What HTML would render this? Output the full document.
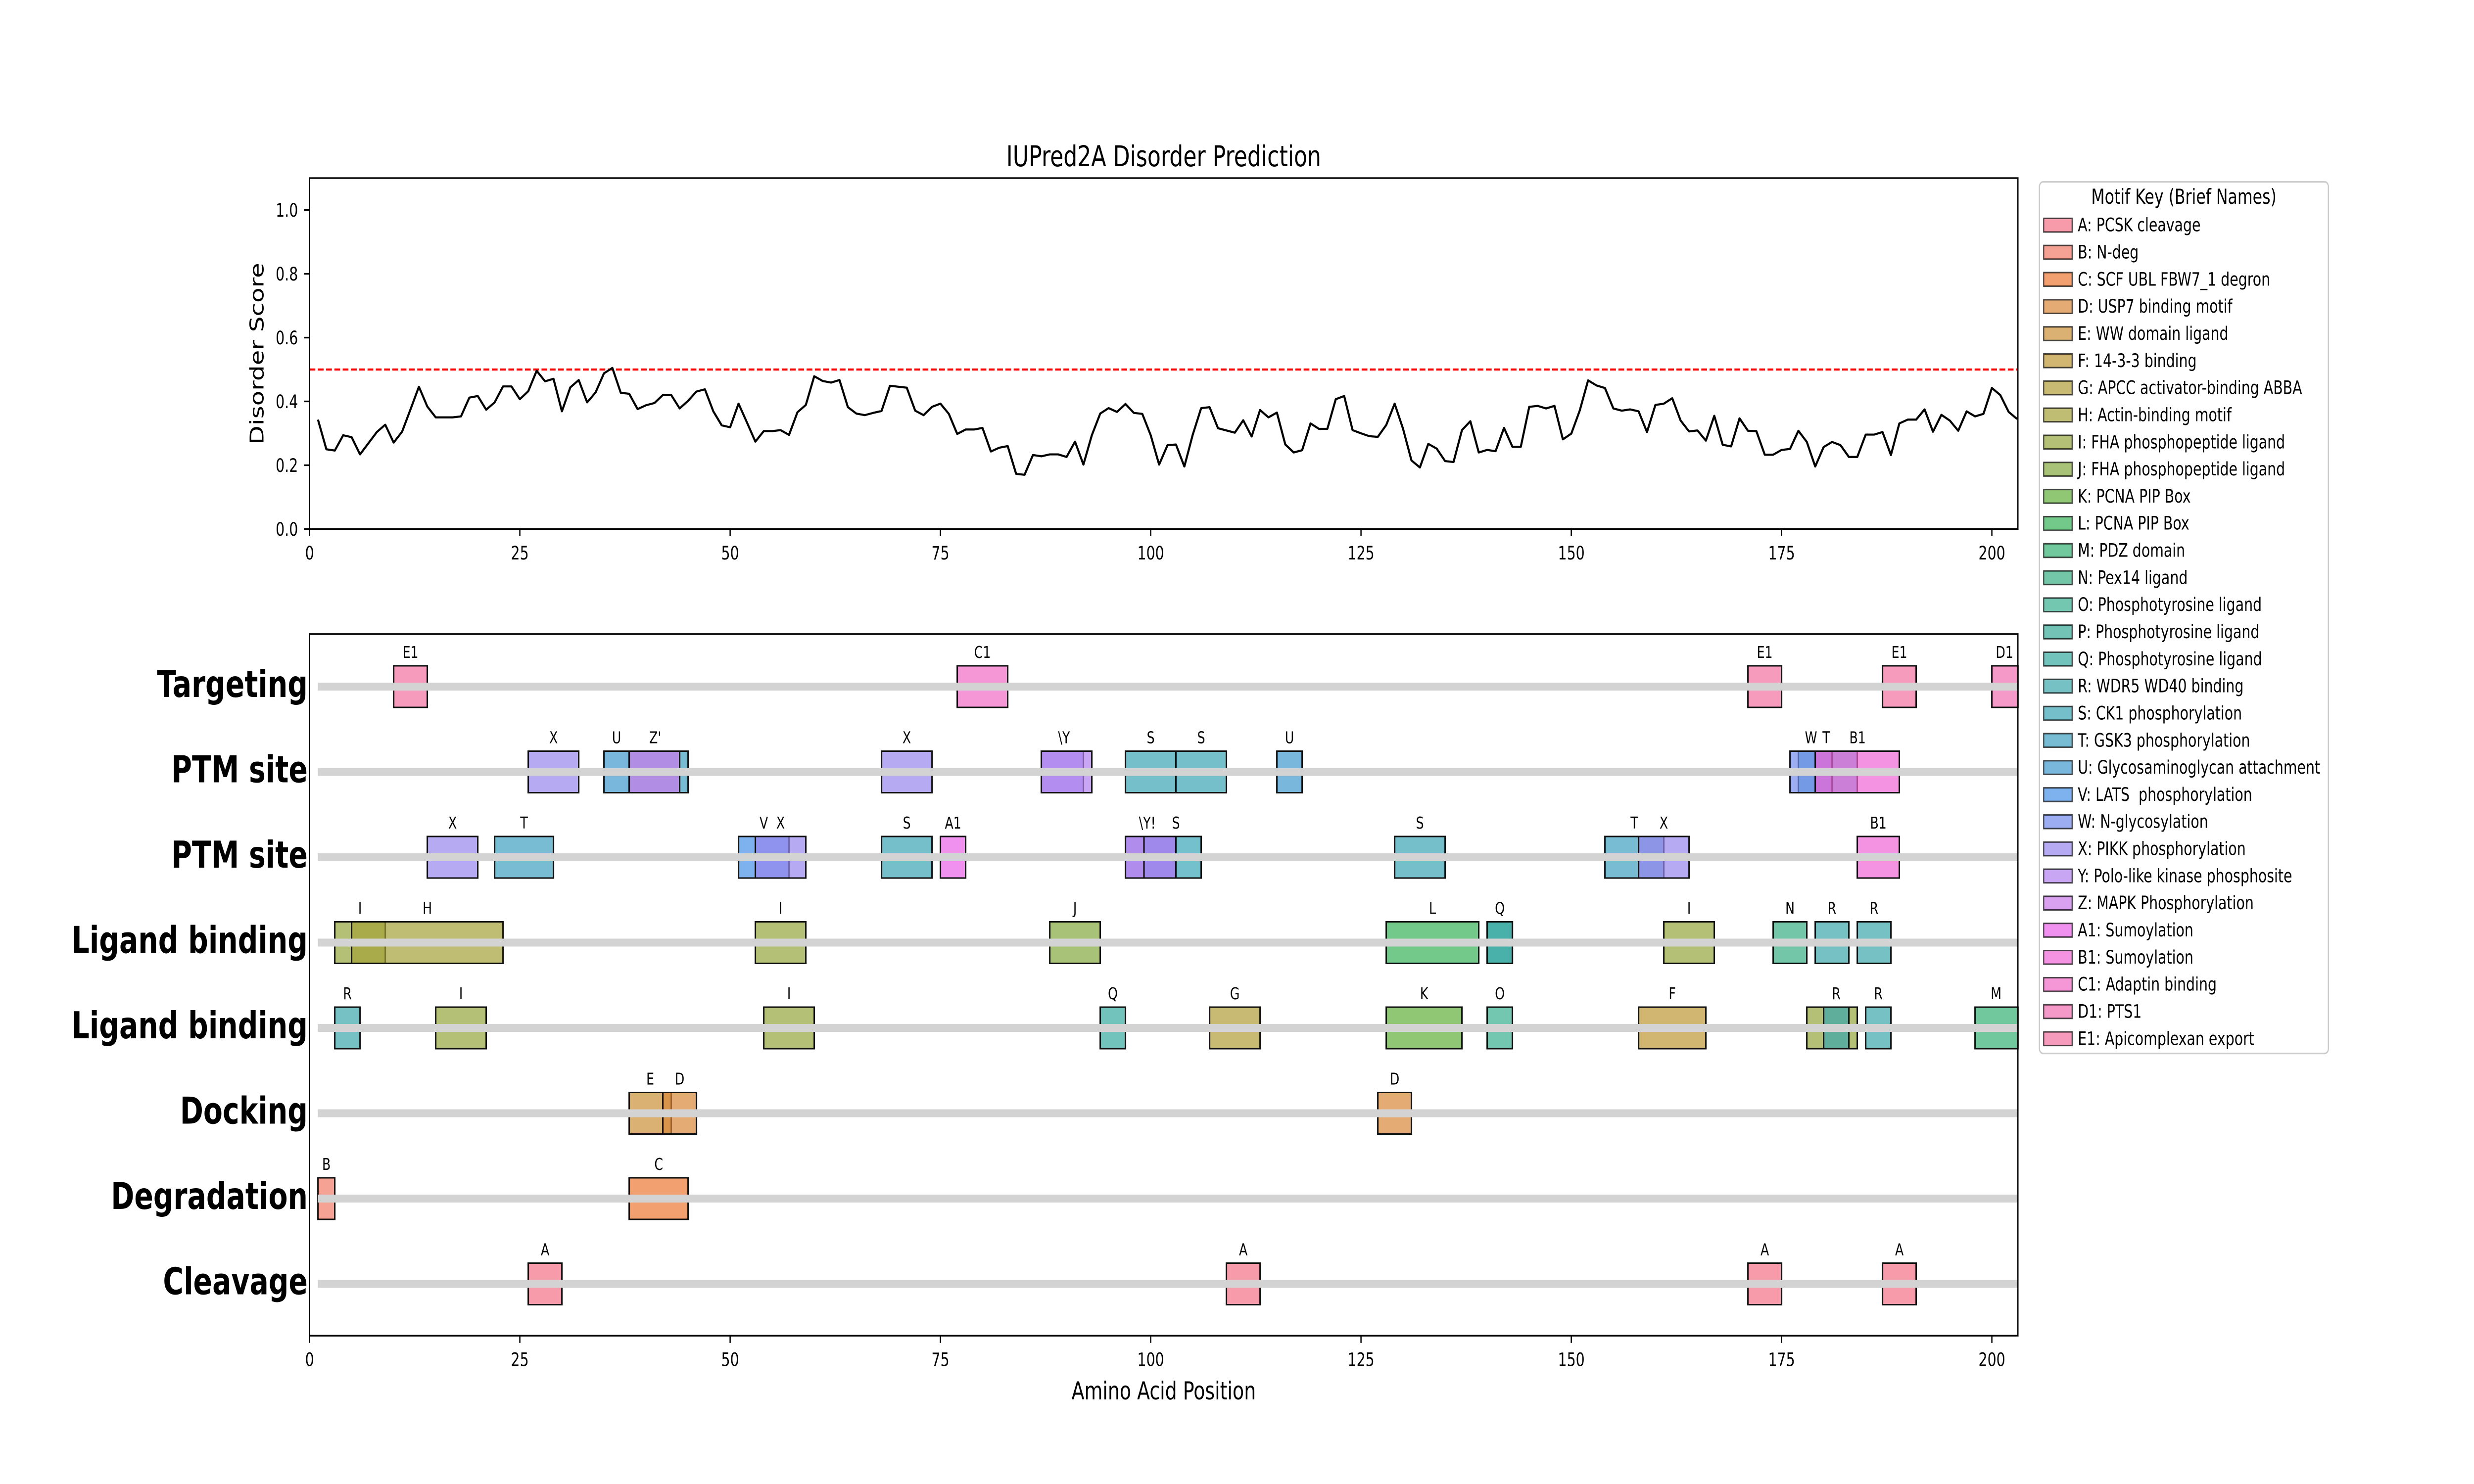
<!DOCTYPE html>
<html>
<head>
<meta charset="utf-8">
<meta name="viewport" content="width=device-width, initial-scale=1">
<style>
  html,body{margin:0;padding:0;background:#fff;overflow:hidden;width:100%;height:100%;}
  svg{display:block;width:100vw;height:100vh;}
  text{font-family:"DejaVu Sans","Liberation Sans",sans-serif;}
</style>
</head>
<body>
<svg xmlns="http://www.w3.org/2000/svg" viewBox="0 0 6600 3000" preserveAspectRatio="none">
<rect x="0" y="0" width="6600" height="3000" fill="#ffffff"/>

<!-- ================= TOP PLOT ================= -->
<text x="3104.5" y="336" font-size="58.3" text-anchor="middle" fill="#000">IUPred2A Disorder Prediction</text>

<line x1="825.8" y1="747" x2="5383.3" y2="747" stroke="#ff0000" stroke-width="4.2" stroke-dasharray="15.4 6.7"/>

<g transform="translate(825.8 1069.5) scale(22.44 -645)">
<polyline fill="none" stroke="#000" stroke-width="4.2" vector-effect="non-scaling-stroke" stroke-linejoin="round" stroke-linecap="butt"
points="1,0.343 2,0.250 3,0.246 4,0.294 5,0.288 6,0.234 7,0.269 8,0.304 9,0.327 10,0.271 11,0.305 12,0.375 13,0.446 14,0.384 15,0.350 16,0.350 17,0.350 18,0.353 19,0.412 20,0.417 21,0.374 22,0.397 23,0.447 24,0.447 25,0.407 26,0.432 27,0.496 28,0.463 29,0.471 30,0.369 31,0.444 32,0.467 33,0.397 34,0.428 35,0.488 36,0.505 37,0.427 38,0.424 39,0.376 40,0.388 41,0.395 42,0.420 43,0.420 44,0.378 45,0.402 46,0.431 47,0.438 48,0.369 49,0.325 50,0.319 51,0.393 52,0.334 53,0.274 54,0.307 55,0.307 56,0.310 57,0.295 58,0.366 59,0.389 60,0.479 61,0.464 62,0.459 63,0.467 64,0.382 65,0.362 66,0.357 67,0.364 68,0.370 69,0.449 70,0.446 71,0.443 72,0.371 73,0.357 74,0.383 75,0.393 76,0.361 77,0.298 78,0.312 79,0.312 80,0.317 81,0.243 82,0.255 83,0.260 84,0.173 85,0.170 86,0.232 87,0.228 88,0.234 89,0.234 90,0.226 91,0.274 92,0.202 93,0.294 94,0.362 95,0.379 96,0.367 97,0.392 98,0.364 99,0.361 100,0.294 101,0.202 102,0.263 103,0.265 104,0.196 105,0.296 106,0.379 107,0.382 108,0.316 109,0.309 110,0.302 111,0.341 112,0.290 113,0.373 114,0.350 115,0.365 116,0.265 117,0.240 118,0.247 119,0.331 120,0.314 121,0.314 122,0.407 123,0.417 124,0.310 125,0.300 126,0.291 127,0.289 128,0.326 129,0.393 130,0.314 131,0.215 132,0.193 133,0.267 134,0.252 135,0.213 136,0.210 137,0.310 138,0.338 139,0.240 140,0.248 141,0.244 142,0.317 143,0.258 144,0.258 145,0.383 146,0.386 147,0.378 148,0.386 149,0.281 150,0.299 151,0.371 152,0.466 153,0.450 154,0.442 155,0.378 156,0.371 157,0.375 158,0.369 159,0.304 160,0.389 161,0.393 162,0.410 163,0.340 164,0.306 165,0.309 166,0.277 167,0.355 168,0.264 169,0.259 170,0.347 171,0.308 172,0.307 173,0.233 174,0.233 175,0.248 176,0.251 177,0.308 178,0.273 179,0.196 180,0.257 181,0.273 182,0.263 183,0.226 184,0.226 185,0.296 186,0.296 187,0.304 188,0.232 189,0.331 190,0.343 191,0.343 192,0.375 193,0.305 194,0.358 195,0.340 196,0.308 197,0.369 198,0.353 199,0.361 200,0.442 201,0.420 202,0.367 203,0.345"/>
</g>

<rect x="825.8" y="360" width="4557.5" height="709.5" fill="none" stroke="#000" stroke-width="3.3"/>

<g stroke="#000" stroke-width="3.3">
<line x1="811" y1="1069.5" x2="825.8" y2="1069.5"/>
<line x1="811" y1="940.5" x2="825.8" y2="940.5"/>
<line x1="811" y1="811.5" x2="825.8" y2="811.5"/>
<line x1="811" y1="682.5" x2="825.8" y2="682.5"/>
<line x1="811" y1="553.5" x2="825.8" y2="553.5"/>
<line x1="811" y1="424.5" x2="825.8" y2="424.5"/>
</g>
<g font-size="37.5" text-anchor="end" fill="#000">
<text x="795" y="1083">0.0</text>
<text x="795" y="954">0.2</text>
<text x="795" y="825">0.4</text>
<text x="795" y="696">0.6</text>
<text x="795" y="567">0.8</text>
<text x="795" y="438">1.0</text>
</g>
<text transform="translate(703 715) rotate(-90)" font-size="50" text-anchor="middle" fill="#000">Disorder Score</text>

<g stroke="#000" stroke-width="3.3">
<line x1="825.8" y1="1069.5" x2="825.8" y2="1084"/>
<line x1="1386.8" y1="1069.5" x2="1386.8" y2="1084"/>
<line x1="1947.8" y1="1069.5" x2="1947.8" y2="1084"/>
<line x1="2508.8" y1="1069.5" x2="2508.8" y2="1084"/>
<line x1="3069.8" y1="1069.5" x2="3069.8" y2="1084"/>
<line x1="3630.8" y1="1069.5" x2="3630.8" y2="1084"/>
<line x1="4191.8" y1="1069.5" x2="4191.8" y2="1084"/>
<line x1="4752.8" y1="1069.5" x2="4752.8" y2="1084"/>
<line x1="5313.8" y1="1069.5" x2="5313.8" y2="1084"/>
</g>
<g font-size="37.5" text-anchor="middle" fill="#000">
<text x="825.8" y="1131">0</text>
<text x="1386.8" y="1131">25</text>
<text x="1947.8" y="1131">50</text>
<text x="2508.8" y="1131">75</text>
<text x="3069.8" y="1131">100</text>
<text x="3630.8" y="1131">125</text>
<text x="4191.8" y="1131">150</text>
<text x="4752.8" y="1131">175</text>
<text x="5313.8" y="1131">200</text>
</g>

<!-- ================= BOTTOM PLOT ================= -->
<g transform="translate(825.8 0) scale(22.44 1)" fill-opacity="0.7" stroke="#111" stroke-width="3">
  <rect x="10" y="1346" width="4" height="84" fill="#f2709f" vector-effect="non-scaling-stroke"/>
  <rect x="77" y="1346" width="6" height="84" fill="#f16ac4" vector-effect="non-scaling-stroke"/>
  <rect x="171" y="1346" width="4" height="84" fill="#f2709f" vector-effect="non-scaling-stroke"/>
  <rect x="187" y="1346" width="4" height="84" fill="#f2709f" vector-effect="non-scaling-stroke"/>
  <rect x="200" y="1346" width="3.1" height="84" fill="#f16db2" vector-effect="non-scaling-stroke"/>

  <rect x="26" y="1518.5" width="6" height="84" fill="#9786ee" vector-effect="non-scaling-stroke"/>
  <rect x="35" y="1518.5" width="3" height="84" fill="#4099ce" vector-effect="non-scaling-stroke"/>
  <rect x="38" y="1518.5" width="7" height="84" fill="#3d9fc0" vector-effect="non-scaling-stroke"/>
  <rect x="38" y="1518.5" width="6" height="84" fill="#cc79eb" vector-effect="non-scaling-stroke"/>
  <rect x="68" y="1518.5" width="6" height="84" fill="#9786ee" vector-effect="non-scaling-stroke"/>
  <rect x="87" y="1518.5" width="5" height="84" fill="#9786ee" vector-effect="non-scaling-stroke"/>
  <rect x="87" y="1518.5" width="6" height="84" fill="#b280ee" vector-effect="non-scaling-stroke"/>
  <rect x="97" y="1518.5" width="6" height="84" fill="#3ba4b5" vector-effect="non-scaling-stroke"/>
  <rect x="103" y="1518.5" width="6" height="84" fill="#3ba4b5" vector-effect="non-scaling-stroke"/>
  <rect x="115" y="1518.5" width="3" height="84" fill="#4099ce" vector-effect="non-scaling-stroke"/>
  <rect x="177" y="1518.5" width="7" height="84" fill="#3d9fc0" vector-effect="non-scaling-stroke"/>
  <rect x="176" y="1518.5" width="5" height="84" fill="#738aec" vector-effect="non-scaling-stroke"/>
  <rect x="179" y="1518.5" width="10" height="84" fill="#f165d7" vector-effect="non-scaling-stroke"/>

  <rect x="14" y="1691" width="6" height="84" fill="#9786ee" vector-effect="non-scaling-stroke"/>
  <rect x="22" y="1691" width="7" height="84" fill="#3d9fc0" vector-effect="non-scaling-stroke"/>
  <rect x="51" y="1691" width="6" height="84" fill="#4792e7" vector-effect="non-scaling-stroke"/>
  <rect x="53" y="1691" width="6" height="84" fill="#9786ee" vector-effect="non-scaling-stroke"/>
  <rect x="68" y="1691" width="6" height="84" fill="#3ba4b5" vector-effect="non-scaling-stroke"/>
  <rect x="75" y="1691" width="3" height="84" fill="#ea63ea" vector-effect="non-scaling-stroke"/>
  <rect x="97" y="1691" width="2.2" height="84" fill="#b08cec" fill-opacity="1" vector-effect="non-scaling-stroke"/>
  <rect x="99.2" y="1691" width="3.8" height="84" fill="#9f8aec" fill-opacity="1" vector-effect="non-scaling-stroke"/>
  <rect x="103" y="1691" width="3" height="84" fill="#74c0cc" fill-opacity="1" vector-effect="non-scaling-stroke"/>
  <rect x="129" y="1691" width="6" height="84" fill="#3ba4b5" vector-effect="non-scaling-stroke"/>
  <rect x="154" y="1691" width="7" height="84" fill="#3d9fc0" vector-effect="non-scaling-stroke"/>
  <rect x="158" y="1691" width="6" height="84" fill="#9786ee" vector-effect="non-scaling-stroke"/>
  <rect x="184" y="1691" width="5" height="84" fill="#f165d7" vector-effect="non-scaling-stroke"/>

  <rect x="3" y="1863.5" width="6" height="84" fill="#94a53b" vector-effect="non-scaling-stroke"/>
  <rect x="5" y="1863.5" width="18" height="84" fill="#a4a138" vector-effect="non-scaling-stroke"/>
  <rect x="53" y="1863.5" width="6" height="84" fill="#94a53b" vector-effect="non-scaling-stroke"/>
  <rect x="88" y="1863.5" width="6" height="84" fill="#83a93d" vector-effect="non-scaling-stroke"/>
  <rect x="128" y="1863.5" width="11" height="84" fill="#38b258" vector-effect="non-scaling-stroke"/>
  <rect x="140" y="1863.5" width="3" height="84" fill="#38a9a1" vector-effect="non-scaling-stroke"/>
  <rect x="140" y="1863.5" width="3" height="84" fill="#38a9a1" vector-effect="non-scaling-stroke"/>
  <rect x="161" y="1863.5" width="6" height="84" fill="#94a53b" vector-effect="non-scaling-stroke"/>
  <rect x="174" y="1863.5" width="4" height="84" fill="#37af83" vector-effect="non-scaling-stroke"/>
  <rect x="179" y="1863.5" width="4" height="84" fill="#3aa6ab" vector-effect="non-scaling-stroke"/>
  <rect x="184" y="1863.5" width="4" height="84" fill="#3aa6ab" vector-effect="non-scaling-stroke"/>

  <rect x="3" y="2036" width="3" height="84" fill="#3aa6ab" vector-effect="non-scaling-stroke"/>
  <rect x="15" y="2036" width="6" height="84" fill="#94a53b" vector-effect="non-scaling-stroke"/>
  <rect x="54" y="2036" width="6" height="84" fill="#94a53b" vector-effect="non-scaling-stroke"/>
  <rect x="94" y="2036" width="3" height="84" fill="#38a9a1" vector-effect="non-scaling-stroke"/>
  <rect x="107" y="2036" width="6" height="84" fill="#b09c38" vector-effect="non-scaling-stroke"/>
  <rect x="128" y="2036" width="9" height="84" fill="#5faf3a" vector-effect="non-scaling-stroke"/>
  <rect x="140" y="2036" width="3" height="84" fill="#37ae8e" vector-effect="non-scaling-stroke"/>
  <rect x="158" y="2036" width="8" height="84" fill="#bd9736" vector-effect="non-scaling-stroke"/>
  <rect x="178" y="2036" width="6" height="84" fill="#94a53b" vector-effect="non-scaling-stroke"/>
  <rect x="180" y="2036" width="3" height="84" fill="#3aa6ab" vector-effect="non-scaling-stroke"/>
  <rect x="185" y="2036" width="3" height="84" fill="#3aa6ab" vector-effect="non-scaling-stroke"/>
  <rect x="198" y="2036" width="5.1" height="84" fill="#36b074" vector-effect="non-scaling-stroke"/>

  <rect x="38" y="2208.5" width="5" height="84" fill="#ca9036" vector-effect="non-scaling-stroke"/>
  <rect x="42" y="2208.5" width="4" height="84" fill="#d8873b" vector-effect="non-scaling-stroke"/>
  <rect x="127" y="2208.5" width="4" height="84" fill="#d8873b" vector-effect="non-scaling-stroke"/>

  <rect x="1" y="2381" width="2" height="84" fill="#f17966" vector-effect="non-scaling-stroke"/>
  <rect x="38" y="2381" width="7" height="84" fill="#ec7733" vector-effect="non-scaling-stroke"/>

  <rect x="26" y="2553.5" width="4" height="84" fill="#f47087" vector-effect="non-scaling-stroke"/>
  <rect x="109" y="2553.5" width="4" height="84" fill="#f47087" vector-effect="non-scaling-stroke"/>
  <rect x="171" y="2553.5" width="4" height="84" fill="#f47087" vector-effect="non-scaling-stroke"/>
  <rect x="187" y="2553.5" width="4" height="84" fill="#f47087" vector-effect="non-scaling-stroke"/>
</g>

<g fill="#d3d3d3">
<rect x="848" y="1380" width="4535.3" height="16"/>
<rect x="848" y="1552.5" width="4535.3" height="16"/>
<rect x="848" y="1725" width="4535.3" height="16"/>
<rect x="848" y="1897.5" width="4535.3" height="16"/>
<rect x="848" y="2070" width="4535.3" height="16"/>
<rect x="848" y="2242.5" width="4535.3" height="16"/>
<rect x="848" y="2415" width="4535.3" height="16"/>
<rect x="848" y="2587.5" width="4535.3" height="16"/>
</g>

<g font-size="33.3" text-anchor="middle" fill="#000">
  <text x="1095.1" y="1330">E1</text>
  <text x="2621.0" y="1330">C1</text>
  <text x="4707.9" y="1330">E1</text>
  <text x="5067.0" y="1330">E1</text>
  <text x="5347.5" y="1330">D1</text>

  <text x="1476.6" y="1502.5">X</text>
  <text x="1644.9" y="1502.5">U</text>
  <text x="1748" y="1502.5">Z'</text>
  <text x="2419.0" y="1502.5">X</text>
  <text x="2838.7" y="1502.5">\Y</text>
  <text x="3069.8" y="1502.5">S</text>
  <text x="3204.4" y="1502.5">S</text>
  <text x="3440.1" y="1502.5">U</text>
  <text x="4831.3" y="1502.5">W</text>
  <text x="4872" y="1502.5">T</text>
  <text x="4955.5" y="1502.5">B1</text>

  <text x="1207.3" y="1675">X</text>
  <text x="1398.0" y="1675">T</text>
  <text x="2037.6" y="1675">V</text>
  <text x="2082.4" y="1675">X</text>
  <text x="2419.0" y="1675">S</text>
  <text x="2542.5" y="1675">A1</text>
  <text x="3060.8" y="1675">\Y!</text>
  <text x="3137.1" y="1675">S</text>
  <text x="3787.9" y="1675">S</text>
  <text x="4360.1" y="1675">T</text>
  <text x="4438.6" y="1675">X</text>
  <text x="5010.9" y="1675">B1</text>

  <text x="960.4" y="1847.5">I</text>
  <text x="1140.0" y="1847.5">H</text>
  <text x="2082.4" y="1847.5">I</text>
  <text x="2867.8" y="1847.5">J</text>
  <text x="3821.5" y="1847.5">L</text>
  <text x="4001.1" y="1847.5">Q</text>
  <text x="4506.0" y="1847.5">I</text>
  <text x="4775.2" y="1847.5">N</text>
  <text x="4887.4" y="1847.5">R</text>
  <text x="4999.6" y="1847.5">R</text>

  <text x="926.8" y="2020">R</text>
  <text x="1229.7" y="2020">I</text>
  <text x="2104.9" y="2020">I</text>
  <text x="2968.8" y="2020">Q</text>
  <text x="3294.2" y="2020">G</text>
  <text x="3799.1" y="2020">K</text>
  <text x="4001.1" y="2020">O</text>
  <text x="4461.1" y="2020">F</text>
  <text x="4898.7" y="2020">R</text>
  <text x="5010.9" y="2020">R</text>
  <text x="5325.0" y="2020">M</text>

  <text x="1734.6" y="2192.5">E</text>
  <text x="1813.2" y="2192.5">D</text>
  <text x="3720.6" y="2192.5">D</text>

  <text x="870.7" y="2365">B</text>
  <text x="1757.1" y="2365">C</text>

  <text x="1454.1" y="2537.5">A</text>
  <text x="3316.6" y="2537.5">A</text>
  <text x="4707.9" y="2537.5">A</text>
  <text x="5067.0" y="2537.5">A</text>
</g>

<rect x="825.8" y="1281.8" width="4557.5" height="1418.4" fill="none" stroke="#000" stroke-width="3.3"/>

<g font-size="75" font-weight="bold" text-anchor="end" fill="#000">
<text x="821" y="1409">Targeting</text>
<text x="821" y="1581.5">PTM site</text>
<text x="821" y="1754">PTM site</text>
<text x="821" y="1926.5">Ligand binding</text>
<text x="821" y="2099">Ligand binding</text>
<text x="821" y="2271.5">Docking</text>
<text x="821" y="2444">Degradation</text>
<text x="821" y="2616.5">Cleavage</text>
</g>

<g stroke="#000" stroke-width="3.3">
<line x1="825.8" y1="2700.2" x2="825.8" y2="2714.8"/>
<line x1="1386.8" y1="2700.2" x2="1386.8" y2="2714.8"/>
<line x1="1947.8" y1="2700.2" x2="1947.8" y2="2714.8"/>
<line x1="2508.8" y1="2700.2" x2="2508.8" y2="2714.8"/>
<line x1="3069.8" y1="2700.2" x2="3069.8" y2="2714.8"/>
<line x1="3630.8" y1="2700.2" x2="3630.8" y2="2714.8"/>
<line x1="4191.8" y1="2700.2" x2="4191.8" y2="2714.8"/>
<line x1="4752.8" y1="2700.2" x2="4752.8" y2="2714.8"/>
<line x1="5313.8" y1="2700.2" x2="5313.8" y2="2714.8"/>
</g>
<g font-size="37.5" text-anchor="middle" fill="#000">
<text x="825.8" y="2761.5">0</text>
<text x="1386.8" y="2761.5">25</text>
<text x="1947.8" y="2761.5">50</text>
<text x="2508.8" y="2761.5">75</text>
<text x="3069.8" y="2761.5">100</text>
<text x="3630.8" y="2761.5">125</text>
<text x="4191.8" y="2761.5">150</text>
<text x="4752.8" y="2761.5">175</text>
<text x="5313.8" y="2761.5">200</text>
</g>
<text x="3104.5" y="2829" font-size="50" text-anchor="middle" fill="#000">Amino Acid Position</text>

<!-- ================= LEGEND ================= -->
<rect x="5440.6" y="367.6" width="771" height="1762" rx="10" ry="10" fill="#ffffff" stroke="#cccccc" stroke-width="3.3"/>
<text x="5826" y="412" font-size="41.7" text-anchor="middle" fill="#000">Motif Key (Brief Names)</text>
<g font-size="37.5" fill="#000">
  <g transform="translate(0 441.4)"><rect x="5452" y="0" width="76" height="27.6" fill="#f47087" fill-opacity="0.7" stroke="#000" stroke-opacity="0.7" stroke-width="3"/><text x="5543" y="26.3">A: PCSK cleavage</text></g>
  <g transform="translate(0 496.2)"><rect x="5452" y="0" width="76" height="27.6" fill="#f17966" fill-opacity="0.7" stroke="#000" stroke-opacity="0.7" stroke-width="3"/><text x="5543" y="26.3">B: N-deg</text></g>
  <g transform="translate(0 551.0)"><rect x="5452" y="0" width="76" height="27.6" fill="#ec7733" fill-opacity="0.7" stroke="#000" stroke-opacity="0.7" stroke-width="3"/><text x="5543" y="26.3">C: SCF UBL FBW7_1 degron</text></g>
  <g transform="translate(0 605.9)"><rect x="5452" y="0" width="76" height="27.6" fill="#d8873b" fill-opacity="0.7" stroke="#000" stroke-opacity="0.7" stroke-width="3"/><text x="5543" y="26.3">D: USP7 binding motif</text></g>
  <g transform="translate(0 660.7)"><rect x="5452" y="0" width="76" height="27.6" fill="#ca9036" fill-opacity="0.7" stroke="#000" stroke-opacity="0.7" stroke-width="3"/><text x="5543" y="26.3">E: WW domain ligand</text></g>
  <g transform="translate(0 715.5)"><rect x="5452" y="0" width="76" height="27.6" fill="#bd9736" fill-opacity="0.7" stroke="#000" stroke-opacity="0.7" stroke-width="3"/><text x="5543" y="26.3">F: 14-3-3 binding</text></g>
  <g transform="translate(0 770.3)"><rect x="5452" y="0" width="76" height="27.6" fill="#b09c38" fill-opacity="0.7" stroke="#000" stroke-opacity="0.7" stroke-width="3"/><text x="5543" y="26.3">G: APCC activator-binding ABBA</text></g>
  <g transform="translate(0 825.1)"><rect x="5452" y="0" width="76" height="27.6" fill="#a4a138" fill-opacity="0.7" stroke="#000" stroke-opacity="0.7" stroke-width="3"/><text x="5543" y="26.3">H: Actin-binding motif</text></g>
  <g transform="translate(0 880.0)"><rect x="5452" y="0" width="76" height="27.6" fill="#94a53b" fill-opacity="0.7" stroke="#000" stroke-opacity="0.7" stroke-width="3"/><text x="5543" y="26.3">I: FHA phosphopeptide ligand</text></g>
  <g transform="translate(0 934.8)"><rect x="5452" y="0" width="76" height="27.6" fill="#83a93d" fill-opacity="0.7" stroke="#000" stroke-opacity="0.7" stroke-width="3"/><text x="5543" y="26.3">J: FHA phosphopeptide ligand</text></g>
  <g transform="translate(0 989.6)"><rect x="5452" y="0" width="76" height="27.6" fill="#5faf3a" fill-opacity="0.7" stroke="#000" stroke-opacity="0.7" stroke-width="3"/><text x="5543" y="26.3">K: PCNA PIP Box</text></g>
  <g transform="translate(0 1044.4)"><rect x="5452" y="0" width="76" height="27.6" fill="#38b258" fill-opacity="0.7" stroke="#000" stroke-opacity="0.7" stroke-width="3"/><text x="5543" y="26.3">L: PCNA PIP Box</text></g>
  <g transform="translate(0 1099.2)"><rect x="5452" y="0" width="76" height="27.6" fill="#36b074" fill-opacity="0.7" stroke="#000" stroke-opacity="0.7" stroke-width="3"/><text x="5543" y="26.3">M: PDZ domain</text></g>
  <g transform="translate(0 1154.1)"><rect x="5452" y="0" width="76" height="27.6" fill="#37af83" fill-opacity="0.7" stroke="#000" stroke-opacity="0.7" stroke-width="3"/><text x="5543" y="26.3">N: Pex14 ligand</text></g>
  <g transform="translate(0 1208.9)"><rect x="5452" y="0" width="76" height="27.6" fill="#37ae8e" fill-opacity="0.7" stroke="#000" stroke-opacity="0.7" stroke-width="3"/><text x="5543" y="26.3">O: Phosphotyrosine ligand</text></g>
  <g transform="translate(0 1263.7)"><rect x="5452" y="0" width="76" height="27.6" fill="#38ab97" fill-opacity="0.7" stroke="#000" stroke-opacity="0.7" stroke-width="3"/><text x="5543" y="26.3">P: Phosphotyrosine ligand</text></g>
  <g transform="translate(0 1318.5)"><rect x="5452" y="0" width="76" height="27.6" fill="#38a9a1" fill-opacity="0.7" stroke="#000" stroke-opacity="0.7" stroke-width="3"/><text x="5543" y="26.3">Q: Phosphotyrosine ligand</text></g>
  <g transform="translate(0 1373.3)"><rect x="5452" y="0" width="76" height="27.6" fill="#3aa6ab" fill-opacity="0.7" stroke="#000" stroke-opacity="0.7" stroke-width="3"/><text x="5543" y="26.3">R: WDR5 WD40 binding</text></g>
  <g transform="translate(0 1428.2)"><rect x="5452" y="0" width="76" height="27.6" fill="#3ba4b5" fill-opacity="0.7" stroke="#000" stroke-opacity="0.7" stroke-width="3"/><text x="5543" y="26.3">S: CK1 phosphorylation</text></g>
  <g transform="translate(0 1483.0)"><rect x="5452" y="0" width="76" height="27.6" fill="#3d9fc0" fill-opacity="0.7" stroke="#000" stroke-opacity="0.7" stroke-width="3"/><text x="5543" y="26.3">T: GSK3 phosphorylation</text></g>
  <g transform="translate(0 1537.8)"><rect x="5452" y="0" width="76" height="27.6" fill="#4099ce" fill-opacity="0.7" stroke="#000" stroke-opacity="0.7" stroke-width="3"/><text x="5543" y="26.3">U: Glycosaminoglycan attachment</text></g>
  <g transform="translate(0 1592.6)"><rect x="5452" y="0" width="76" height="27.6" fill="#4792e7" fill-opacity="0.7" stroke="#000" stroke-opacity="0.7" stroke-width="3"/><text x="5543" y="26.3" xml:space="preserve" style="white-space:pre">V: LATS  phosphorylation</text></g>
  <g transform="translate(0 1647.4)"><rect x="5452" y="0" width="76" height="27.6" fill="#738aec" fill-opacity="0.7" stroke="#000" stroke-opacity="0.7" stroke-width="3"/><text x="5543" y="26.3">W: N-glycosylation</text></g>
  <g transform="translate(0 1702.3)"><rect x="5452" y="0" width="76" height="27.6" fill="#9786ee" fill-opacity="0.7" stroke="#000" stroke-opacity="0.7" stroke-width="3"/><text x="5543" y="26.3">X: PIKK phosphorylation</text></g>
  <g transform="translate(0 1757.1)"><rect x="5452" y="0" width="76" height="27.6" fill="#b280ee" fill-opacity="0.7" stroke="#000" stroke-opacity="0.7" stroke-width="3"/><text x="5543" y="26.3">Y: Polo-like kinase phosphosite</text></g>
  <g transform="translate(0 1811.9)"><rect x="5452" y="0" width="76" height="27.6" fill="#cc79eb" fill-opacity="0.7" stroke="#000" stroke-opacity="0.7" stroke-width="3"/><text x="5543" y="26.3">Z: MAPK Phosphorylation</text></g>
  <g transform="translate(0 1866.7)"><rect x="5452" y="0" width="76" height="27.6" fill="#ea63ea" fill-opacity="0.7" stroke="#000" stroke-opacity="0.7" stroke-width="3"/><text x="5543" y="26.3">A1: Sumoylation</text></g>
  <g transform="translate(0 1921.5)"><rect x="5452" y="0" width="76" height="27.6" fill="#f165d7" fill-opacity="0.7" stroke="#000" stroke-opacity="0.7" stroke-width="3"/><text x="5543" y="26.3">B1: Sumoylation</text></g>
  <g transform="translate(0 1976.4)"><rect x="5452" y="0" width="76" height="27.6" fill="#f16ac4" fill-opacity="0.7" stroke="#000" stroke-opacity="0.7" stroke-width="3"/><text x="5543" y="26.3">C1: Adaptin binding</text></g>
  <g transform="translate(0 2031.2)"><rect x="5452" y="0" width="76" height="27.6" fill="#f16db2" fill-opacity="0.7" stroke="#000" stroke-opacity="0.7" stroke-width="3"/><text x="5543" y="26.3">D1: PTS1</text></g>
  <g transform="translate(0 2086.0)"><rect x="5452" y="0" width="76" height="27.6" fill="#f2709f" fill-opacity="0.7" stroke="#000" stroke-opacity="0.7" stroke-width="3"/><text x="5543" y="26.3">E1: Apicomplexan export</text></g>
</g>
</svg>
</body>
</html>
